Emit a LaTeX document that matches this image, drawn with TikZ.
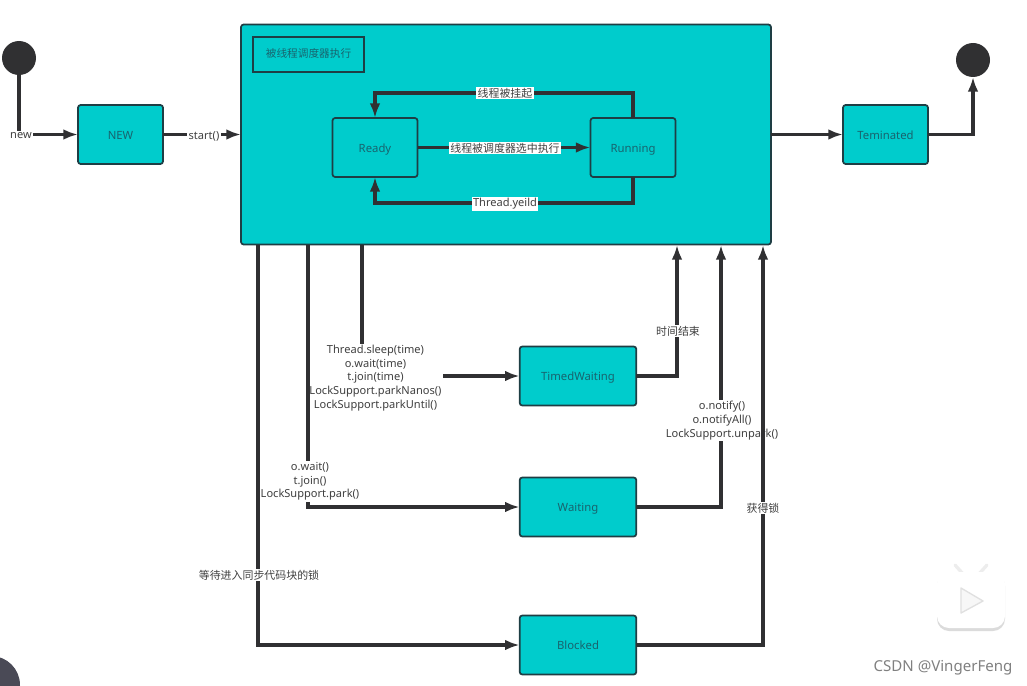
\documentclass[tikz,border=0pt]{standalone}
\usepackage{fontspec}
\setmainfont{Noto Sans}
\newfontfamily\cjk{Noto Sans CJK SC}
\usetikzlibrary{positioning}
\usetikzlibrary{arrows.meta}
\definecolor{tealfill}{RGB}{0,204,204}
\definecolor{inkline}{RGB}{48,48,50}
\definecolor{boxline}{RGB}{30,62,68}
\definecolor{boxtext}{RGB}{24,100,110}
\definecolor{labeltext}{RGB}{64,64,64}
\definecolor{blob}{RGB}{74,74,86}

\begin{document}
\begin{tikzpicture}[
    x=0.75pt,
    y=-0.75pt,
    >={Latex[length=11pt,width=8pt]},
    % node styles
    box/.style = {
      draw=boxline,
      fill=tealfill,
      line width=1.3pt,
      rounded corners=2pt,
      minimum width=63.75pt,
      minimum height=44.25pt,
      inner sep=0pt,
      outer sep=0pt,
      align=center,
      font=\fontsize{8.5}{10}\selectfont,
      text height=8.4pt,
      text depth=1.5pt,
      text=boxtext
    },
    widebox/.style = {box, minimum width=87.5pt},
    circ/.style = {
      circle,
      fill=inkline,
      minimum size=25.5pt,
      inner sep=0pt,
      outer sep=0pt
    },
    lbl/.style = {
      fill=white,
      inner sep=1pt,
      align=center,
      text=labeltext,
      font=\fontsize{8.3}{10.2}\selectfont
    },
    cjklbl/.style = {lbl, font=\cjk\fontsize{8.2}{10}\selectfont},
    % arrow styles
    arr/.style = {->, line width=2.4pt, draw=inkline}
  ]
  \useasboundingbox (0,0) rectangle (1027,685);

  % --- Corner blob of the screen capture
  \fill[blob] (-9,685) circle (29);

  % --- Nodes
  \node[circ] (startdot) at (19,58) {};
  \node[box] (new) at (120.5,134.5) {NEW};
  \node[box, minimum width=397.5pt, minimum height=165pt, right=58.5pt of new] (main) {};
  \node[box, fill=none, sharp corners, minimum width=83.25pt, minimum height=26.25pt, text height=6.2pt, font=\cjk\fontsize{8}{10}\selectfont] (title) at (308.5,54.5) {被线程调度器执行};
  \node[box] (ready) at (375,147.5) {Ready};
  \node[box, right=129.75pt of ready] (running) {Running};
  \node[box, right=54pt of main] (teminated) {Teminated};
  \node[circ] (enddot) at (973,60) {};
  \node[widebox] (timed) at (578,376) {TimedWaiting};
  \node[widebox, below=54pt of timed] (waiting) {Waiting};
  \node[widebox, below=59.25pt of waiting] (blocked) {Blocked};

  % --- Ends on the bottom edge of the main box
  \coordinate (sleepout) at (362,245);
  \coordinate (waitout) at (308,245);
  \coordinate (lockout) at (258,245);
  \coordinate (timein) at (677,245);
  \coordinate (notifyin) at (721,245);
  \coordinate (lockin) at (763,245);

  % --- Arrows and their labels, later lines run over earlier text
  \draw[arr] (startdot.south) |- (new.west);
  \node[lbl] (newlbl) at (21,135.5) {new};
  \draw[arr] (new.east) -- (main.west |- new.east);
  \node[lbl] (startlbl) at (204,136) {start()};

  \draw[arr] (ready) -- (running);
  \node[cjklbl] (pickedlbl) at (505,148) {线程被调度器选中执行};
  \draw[arr] (running.north) -- ++(0,-25) -| (ready.north);
  \node[cjklbl] (suspendlbl) at (505,93) {线程被挂起};
  \draw[arr] (running.south) -- ++(0,26) -| (ready.south);
  \node[lbl] (yieldlbl) at (505,204) {Thread.yeild};

  \draw[arr] (main.east |- teminated.west) -- (teminated.west);
  \draw[arr] (teminated.east) -| (enddot.south);

  \draw[arr] (sleepout) |- (timed.west);
  \node[lbl] (sleeplbl) at (375.5,378) {Thread.sleep(time)\\o.wait(time)\\t.join(time)\\LockSupport.parkNanos()\\LockSupport.parkUntil()};
  \draw[arr] (waitout) |- (waiting.west);
  \node[lbl] (waitlbl) at (310,481.5) {o.wait()\\t.join()\\LockSupport.park()};
  \draw[arr] (lockout) |- (blocked.west);
  \node[cjklbl] (locklbl) at (259,575) {等待进入同步代码块的锁};

  \draw[arr] (timed.east) -| (timein);
  \node[cjklbl] (timelbl) at (678,331) {时间结束};
  \draw[arr] (waiting.east) -| (notifyin);
  \node[lbl] (notifylbl) at (722,420.5) {o.notify()\\o.notifyAll()\\LockSupport.unpark()};
  \draw[arr] (blocked.east) -| (lockin);
  \node[cjklbl] (gotlbl) at (763,508) {获得锁};

  % --- Watermark
  \draw[line width=2.5pt, draw=black!7, line cap=round] (955,565) -- (964,575) (987,565) -- (978,575);
  \fill[black!14, rounded corners=9pt] (937,574) rectangle (1005,631);
  \fill[white, rounded corners=9pt] (937,572) rectangle (1005,628);
  \draw[fill=black!3, draw=black!12, line width=1pt, line join=round] (961,588) -- (983,601) -- (961,613) -- cycle;
  \node[text=black!50, font=\fontsize{11.3}{13}\selectfont, inner sep=0pt] (csdn) at (943,667.5) {CSDN @VingerFeng};
\end{tikzpicture}
\end{document}
